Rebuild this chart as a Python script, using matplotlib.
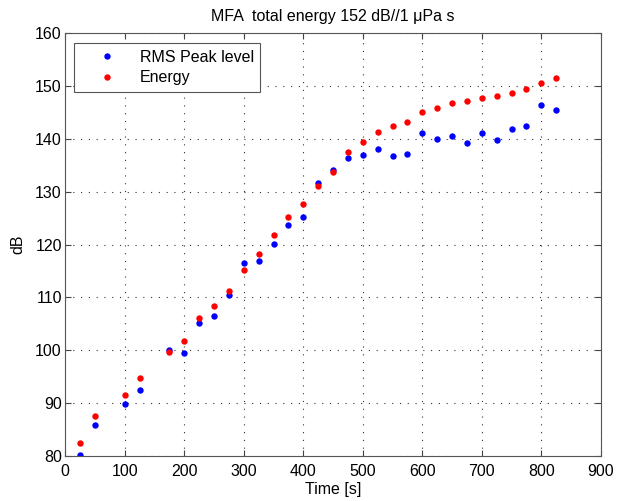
import matplotlib
matplotlib.use('Agg')
import matplotlib.pyplot as plt
from matplotlib.ticker import MultipleLocator

plt.rcParams['font.family'] = ['Liberation Sans', 'DejaVu Sans']

# time of each measurement [s]
t = [25, 50, 100, 125, 175, 200, 225, 250, 275, 300, 325, 350, 375, 400, 425,
     450, 475, 500, 525, 550, 575, 600, 625, 650, 675, 700, 725, 750, 775, 800, 825]
# RMS peak level [dB]
rms = [80.2, 85.8, 89.9, 92.5, 100.1, 99.4, 105.2, 106.4, 110.5, 116.6, 116.9,
       120.1, 123.7, 125.3, 131.6, 134.1, 136.3, 137.0, 138.1, 136.7, 137.1,
       141.1, 140.0, 140.6, 139.3, 141.1, 139.7, 141.8, 142.5, 146.4, 145.5]
# energy [dB]
energy = [82.4, 87.6, 91.6, 94.8, 99.7, 101.7, 106.2, 108.3, 111.2, 115.1, 118.3,
          121.8, 125.3, 127.6, 131.1, 133.8, 137.6, 139.4, 141.3, 142.5, 143.1,
          145.0, 145.8, 146.7, 147.1, 147.7, 148.2, 148.6, 149.4, 150.6, 151.6]

fs = 11.5
fig = plt.figure(figsize=(6.17, 5.01), dpi=100)
ax = fig.add_axes([0.1058, 0.0898, 0.868, 0.844])

ax.plot(t, rms, 'o', color=(0, 0, 1), markersize=4.6, markeredgewidth=0, label='RMS Peak level')
ax.plot(t, energy, 'o', color=(1, 0, 0), markersize=4.6, markeredgewidth=0, label='Energy')

ax.set_xlim(0, 900)
ax.set_ylim(80, 160)
ax.xaxis.set_major_locator(MultipleLocator(100))
ax.yaxis.set_major_locator(MultipleLocator(10))
ax.grid(True, linestyle=(0, (1, 6)), color='#333333', linewidth=0.8)
ax.tick_params(direction='in', top=True, right=True, labelsize=fs, length=4, color='#444444')
ax.tick_params(axis='x', pad=6)
ax.tick_params(axis='y', pad=2.5)
for s in ax.spines.values():
    s.set_color('#555555')

ax.set_xlabel('Time [s]', fontsize=fs, labelpad=2)
ax.set_ylabel('dB', fontsize=fs, labelpad=7)
ax.set_title('MFA  total energy 152 dB//1 \u03bcPa s', fontsize=fs, pad=9)

leg = ax.legend(loc='upper left', bbox_to_anchor=(0.0168, 0.976), borderaxespad=0,
                fontsize=fs, fancybox=False, edgecolor='#555555', framealpha=1,
                borderpad=0.4, handlelength=3.3, handletextpad=0.4, labelspacing=0.35)
leg.get_frame().set_linewidth(0.8)

fig.savefig('out.png', dpi=100)
